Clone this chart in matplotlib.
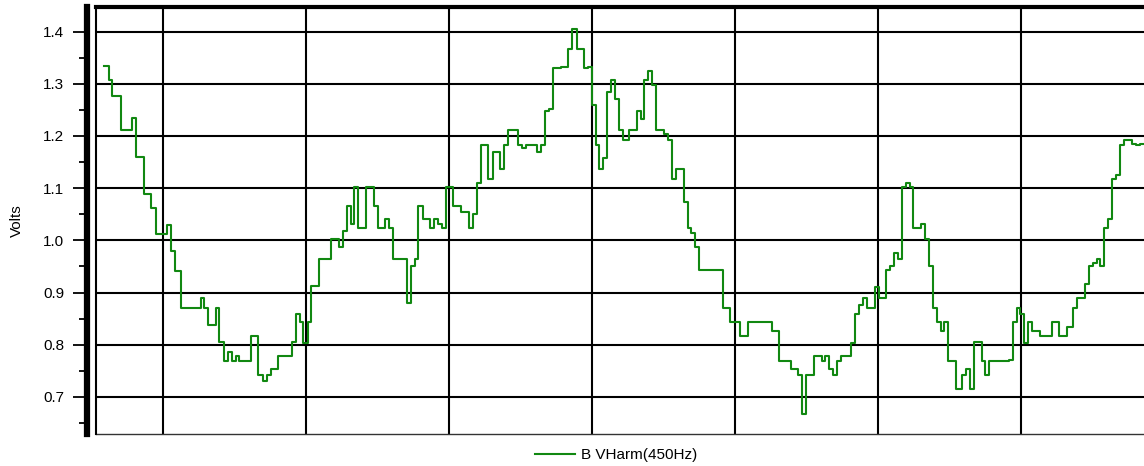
import matplotlib
matplotlib.use("Agg")
import matplotlib.pyplot as plt
from matplotlib.ticker import MultipleLocator

plt.rcParams['font.family'] = ['Liberation Sans', 'DejaVu Sans']

# Zeitpunkte der Messwertwechsel (Rastereinheiten, 10 pro Gitterlinie)
t = [5.90, 6.22, 6.45, 7.04, 7.81, 8.09, 8.67, 9.18, 9.51, 10.30,
     10.56, 10.86, 11.24, 12.64, 12.89, 13.15, 13.71, 13.94, 14.27, 14.52,
     14.80, 15.08, 15.34, 16.15, 16.66, 16.97, 17.25, 17.53, 18.06, 19.04,
     19.28, 19.58, 19.81, 20.14, 20.35, 20.91, 21.75, 22.29, 22.57, 22.85,
     23.13, 23.38, 23.64, 24.20, 24.76, 25.01, 25.52, 25.83, 26.10, 27.04,
     27.34, 27.60, 27.85, 28.15, 28.67, 28.95, 29.25, 29.51, 29.79, 30.30,
     30.84, 31.40, 31.66, 31.94, 32.22, 32.75, 33.06, 33.57, 33.85, 34.13,
     34.80, 35.08, 35.38, 36.13, 36.43, 36.71, 36.99, 37.25, 37.81, 38.34,
     38.62, 38.93, 39.44, 39.74, 40.00, 40.28, 40.51, 40.79, 41.07, 41.35,
     41.61, 41.91, 42.17, 42.59, 43.13, 43.41, 43.66, 43.94, 44.22, 44.50,
     45.03, 45.31, 45.59, 45.87, 46.41, 46.69, 46.94, 47.22, 47.48, 49.14,
     49.67, 50.35, 50.89, 52.57, 53.08, 53.90, 54.43, 54.71, 54.97, 55.52,
     56.06, 56.31, 56.59, 56.87, 57.15, 57.43, 58.09, 58.39, 58.67, 58.93,
     59.21, 59.77, 60.05, 60.56, 60.84, 61.12, 61.42, 61.70, 61.96, 62.24,
     62.47, 63.01, 63.29, 63.57, 63.83, 64.10, 64.38, 64.64, 64.92, 65.45,
     65.87, 66.15, 66.43, 66.69, 67.25, 67.50, 67.78, 69.16, 69.42, 69.70,
     69.93, 70.23, 70.49, 70.77, 71.33, 72.15, 72.68, 73.24, 73.66, 73.94,
     74.45, 74.73, 75.01, 75.29, 75.55, 75.83, 76.11, 76.36, 76.64, 76.92,
     77.20, 77.74, 78.02, 78.32, 79.00]

# Spannung der 450-Hz-Harmonischen, Phase B
volts = [1.334, 1.308, 1.277, 1.211, 1.234, 1.159, 1.088, 1.061, 1.013, 1.029,
         0.979, 0.941, 0.871, 0.890, 0.871, 0.838, 0.871, 0.806, 0.768, 0.787,
         0.768, 0.779, 0.768, 0.816, 0.742, 0.730, 0.742, 0.754, 0.779, 0.806,
         0.858, 0.843, 0.804, 0.843, 0.913, 0.965, 1.002, 0.988, 1.017, 1.066,
         1.032, 1.103, 1.024, 1.103, 1.066, 1.024, 1.040, 1.024, 0.965, 0.880,
         0.951, 0.965, 1.066, 1.040, 1.024, 1.040, 1.032, 1.024, 1.103, 1.066,
         1.055, 1.024, 1.050, 1.110, 1.182, 1.117, 1.169, 1.136, 1.182, 1.211,
         1.182, 1.177, 1.182, 1.169, 1.182, 1.247, 1.252, 1.330, 1.333, 1.367,
         1.404, 1.367, 1.330, 1.333, 1.259, 1.182, 1.136, 1.158, 1.285, 1.308,
         1.271, 1.211, 1.192, 1.211, 1.248, 1.233, 1.308, 1.325, 1.297, 1.211,
         1.204, 1.192, 1.117, 1.136, 1.073, 1.024, 1.015, 0.987, 0.943, 0.871,
         0.843, 0.816, 0.843, 0.827, 0.768, 0.754, 0.742, 0.668, 0.742, 0.779,
         0.768, 0.779, 0.754, 0.742, 0.768, 0.779, 0.804, 0.859, 0.876, 0.890,
         0.871, 0.910, 0.890, 0.943, 0.951, 0.976, 0.965, 1.103, 1.110, 1.103,
         1.024, 1.032, 1.002, 0.951, 0.871, 0.843, 0.827, 0.843, 0.768, 0.715,
         0.742, 0.754, 0.715, 0.806, 0.768, 0.742, 0.768, 0.771, 0.843, 0.871,
         0.859, 0.804, 0.843, 0.827, 0.816, 0.843, 0.816, 0.834, 0.871, 0.890,
         0.916, 0.951, 0.957, 0.965, 0.951, 1.024, 1.040, 1.117, 1.125, 1.182,
         1.192, 1.185, 1.182, 1.185, 1.185]

y_ticks = [0.7, 0.8, 0.9, 1.0, 1.1, 1.2, 1.3, 1.4]
x_grid = [10, 20, 30, 40, 50, 60, 70]
series_name = 'B VHarm(450Hz)'

W, H = 1144, 466
fig = plt.figure(figsize=(W / 100, H / 100), dpi=100)
# Achse ragt rechts etwas ueber den Bildrand hinaus
ax = fig.add_axes([96 / W, 32 / H, (1150 - 96) / W, 427 / H])

ax.plot(t, volts, drawstyle='steps-post', color='#118811', lw=1.5,
        label=series_name, zorder=3)

ax.set_xlim(5.315, 79.02)
ax.set_ylim(0.629, 1.447)

ax.set_yticks(y_ticks)
ax.set_yticklabels([f'{v:.1f}' for v in y_ticks])
ax.yaxis.set_minor_locator(MultipleLocator(0.05))
ax.set_xticks(x_grid)
ax.tick_params(axis='x', length=0, labelbottom=False)
ax.tick_params(axis='y', which='major', length=10, width=1.3, pad=6,
               labelsize=11, colors='black')
ax.tick_params(axis='y', which='minor', length=6, width=1.3)

ax.grid(True, which='major', color='black', lw=1.5)
ax.set_axisbelow(True)

# getrennte, dicke Y-Achse links und Rahmen
ax.spines['left'].set_position(('outward', 6.8))
ax.spines['left'].set_linewidth(4.5)
ax.spines['top'].set_linewidth(3)
ax.spines['bottom'].set_linewidth(1)
ax.spines['bottom'].set_color('#333333')
ax.spines['right'].set_visible(False)
ax.plot([0, 0], [0, 1], transform=ax.transAxes, color='black', lw=1.5,
        clip_on=False, zorder=4)

ax.set_ylabel('Volts', fontsize=11)
ax.yaxis.set_label_coords((24 - 96) / 1054, 0.5)

fig.legend(loc='center left', bbox_to_anchor=(535 / W, 1 - 455 / H),
           frameon=False, fontsize=11, borderpad=0, borderaxespad=0,
           handlelength=2.6, handletextpad=0.4)

fig.savefig('out.png', dpi=100)
